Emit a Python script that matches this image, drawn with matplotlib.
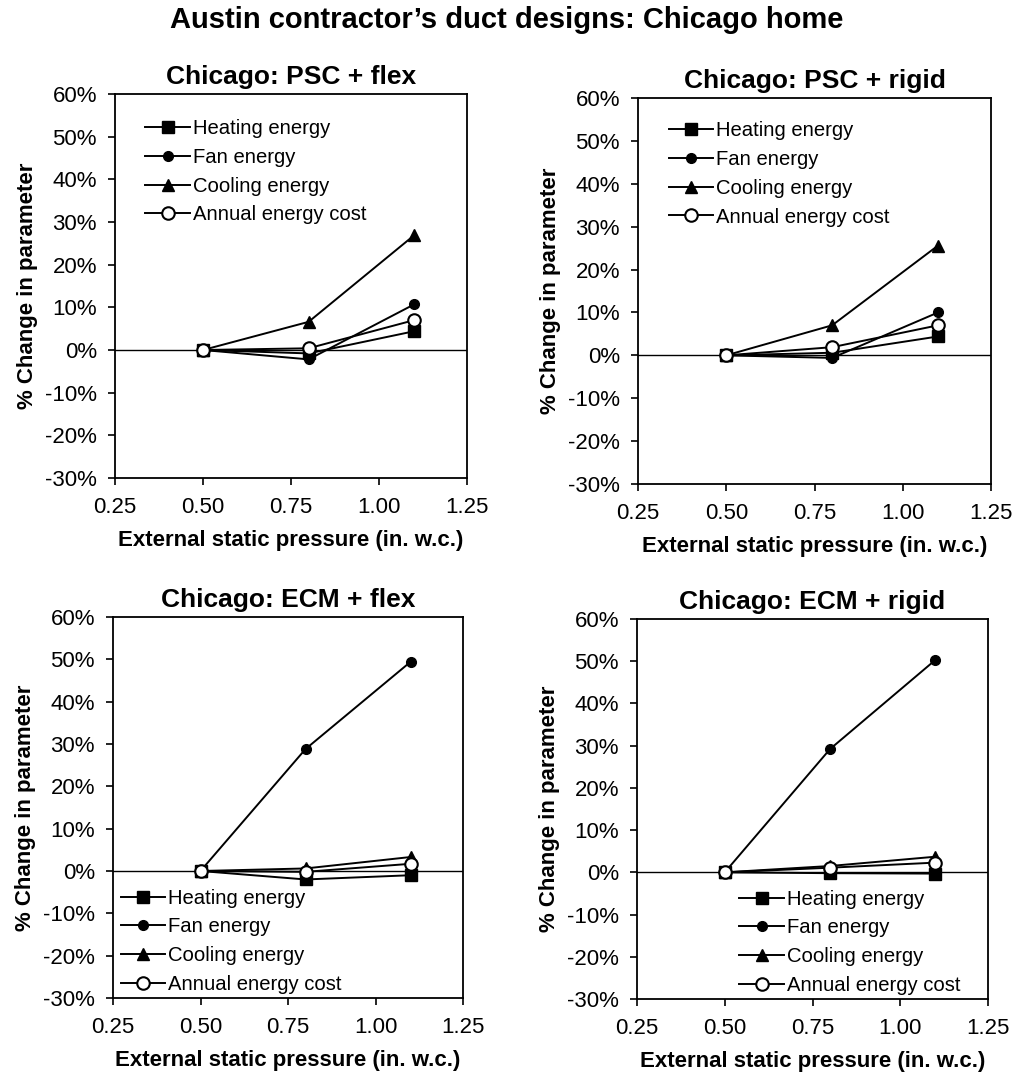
import matplotlib
matplotlib.use("Agg")
import matplotlib.pyplot as plt
from matplotlib.ticker import FuncFormatter

plt.rcParams['font.family'] = ['Liberation Sans', 'DejaVu Sans']

pressure = [0.5, 0.8, 1.1]
series_names = ["Heating energy", "Fan energy", "Cooling energy", "Annual energy cost"]

titles = ["Chicago: PSC + flex", "Chicago: PSC + rigid",
          "Chicago: ECM + flex", "Chicago: ECM + rigid"]

# values in percent
psc_flex_heating = [0.0, -0.8, 4.4]
psc_flex_fan = [0.0, -2.2, 10.7]
psc_flex_cooling = [0.0, 6.6, 26.9]
psc_flex_cost = [0.0, 0.4, 7.0]

psc_rigid_heating = [0.0, 0.6, 4.4]
psc_rigid_fan = [0.0, -0.6, 10.0]
psc_rigid_cooling = [0.0, 7.0, 25.6]
psc_rigid_cost = [0.0, 1.9, 7.0]

ecm_flex_heating = [0.0, -2.0, -1.0]
ecm_flex_fan = [0.0, 28.8, 49.4]
ecm_flex_cooling = [0.0, 0.6, 3.3]
ecm_flex_cost = [0.0, -0.2, 1.7]

ecm_rigid_heating = [0.0, -0.2, -0.3]
ecm_rigid_fan = [0.0, 29.2, 50.3]
ecm_rigid_cooling = [0.0, 1.5, 3.7]
ecm_rigid_cost = [0.0, 1.1, 2.3]

panel_data = [
    [psc_flex_heating, psc_flex_fan, psc_flex_cooling, psc_flex_cost],
    [psc_rigid_heating, psc_rigid_fan, psc_rigid_cooling, psc_rigid_cost],
    [ecm_flex_heating, ecm_flex_fan, ecm_flex_cooling, ecm_flex_cost],
    [ecm_rigid_heating, ecm_rigid_fan, ecm_rigid_cooling, ecm_rigid_cost],
]

x_ticks = [0.25, 0.50, 0.75, 1.00, 1.25]
y_ticks = [-30, -20, -10, 0, 10, 20, 30, 40, 50, 60]

W, H = 1013, 1075
fig = plt.figure(figsize=(W / 100, H / 100), dpi=100)

# axes boxes in pixels: left, top, right, bottom
boxes = [(115, 94, 467, 478), (638, 98, 991, 484),
         (113, 617, 463, 998), (637, 619, 988, 999)]

styles = [dict(marker='s', mfc='black', mec='black', ms=8.5),
          dict(marker='o', mfc='black', mec='black', ms=7),
          dict(marker='^', mfc='black', mec='black', ms=9),
          dict(marker='o', mfc='white', mec='black', ms=9, mew=1.5)]

legend_locs = [dict(loc='upper left', bbox_to_anchor=(0.075, 0.945)),
               dict(loc='upper left', bbox_to_anchor=(0.075, 0.95)),
               dict(loc='lower left', bbox_to_anchor=(0.01, 0.0)),
               dict(loc='lower left', bbox_to_anchor=(0.28, 0.0))]

fig.suptitle("Austin contractor\u2019s duct designs: Chicago home",
             fontsize=21, fontweight='bold', y=1 - 20 / H, va='center')

for i, (l, t, r, b) in enumerate(boxes):
    ax = fig.add_axes([l / W, 1 - b / H, (r - l) / W, (b - t) / H])
    ax.axhline(0, color='black', lw=1.0, zorder=1)
    for name, vals, st in zip(series_names, panel_data[i], styles):
        ax.plot(pressure, vals, color='black', lw=1.4, label=name, zorder=3, **st)
    ax.set_xlim(0.25, 1.25)
    ax.set_ylim(-30, 60)
    ax.set_xticks(x_ticks)
    ax.set_xticklabels([f"{v:.2f}" for v in x_ticks])
    ax.set_yticks(y_ticks)
    ax.yaxis.set_major_formatter(FuncFormatter(lambda v, p: f"{int(round(v))}%"))
    ax.tick_params(direction='out', length=5, width=1.2, labelsize=16)
    ax.tick_params(axis='x', pad=9)
    ax.tick_params(axis='y', pad=8)
    for s in ax.spines.values():
        s.set_linewidth(1.3)
    ax.set_title(titles[i], fontsize=19, fontweight='bold', pad=7)
    ax.set_xlabel("External static pressure (in. w.c.)", fontsize=16, fontweight='bold', labelpad=8)
    ax.set_ylabel("% Change in parameter", fontsize=16, fontweight='bold', labelpad=5)
    ax.legend(frameon=False, fontsize=14.6, handlelength=2.2, handletextpad=0.15,
              labelspacing=0.48, borderpad=0.2, borderaxespad=0.0, **legend_locs[i])

fig.savefig("out.png", dpi=100)
